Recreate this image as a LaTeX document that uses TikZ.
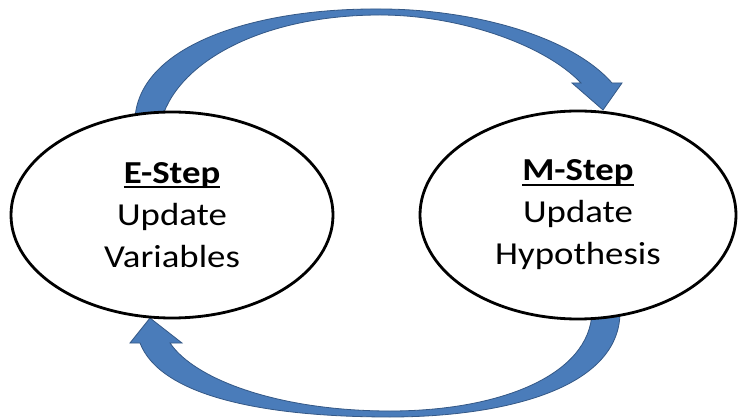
\documentclass[tikz,border=0pt]{standalone}
\usepackage{fontspec}
\setmainfont{Carlito}[FakeStretch=1.15]
\usetikzlibrary{shapes.geometric}
\definecolor{arrfill}{RGB}{74,124,186}
\definecolor{arrline}{RGB}{52,88,134}
\newcommand\stepul[1]{\setbox0\hbox{#1}\rlap{\rule[-5pt]{\wd0}{2.2pt}}\box0}
\tikzset{
  stepnode/.style={ellipse, draw=black, line width=2.8pt, fill=white, inner sep=0pt,
    align=center, font=\fontsize{32}{42}\selectfont},
  blockarrow/.style={fill=arrfill, draw=arrline, line width=0.8pt, line join=miter}
}
\begin{document}
\begin{tikzpicture}[x=1pt,y=-1pt]
\useasboundingbox (0,0) rectangle (738,419);
\fill[white] (0,0) rectangle (738,419);
% top arrow: E -> M
\draw[blockarrow] (135,118) .. controls (140,45) and (255,8) .. (380,9)
  .. controls (470,9) and (570,35) .. (612,83)
  -- (622,83) -- (603,110) -- (572,83) -- (581,83)
  .. controls (545,45) and (460,15) .. (380,15)
  .. controls (265,15) and (180,60) .. (162,118) -- cycle;
% bottom arrow: M -> E
\draw[blockarrow] (620,312) .. controls (620,390) and (500,417) .. (390,417)
  .. controls (260,417) and (160,395) .. (140,343)
  -- (130,343) -- (150,318) -- (182,343) -- (170,343)
  .. controls (195,380) and (280,411) .. (390,411)
  .. controls (500,411) and (590,375) .. (592,312) -- cycle;
\node[stepnode, minimum width=322pt, minimum height=206pt] (E) at (172,215)
  {\textbf{\stepul{E-Step}}\\Update\\Variables};
\node[stepnode, minimum width=316pt, minimum height=208pt] (M) at (578,215)
  {\textbf{\stepul{M-Step}}\\Update\\Hypothesis};
\end{tikzpicture}
\end{document}
